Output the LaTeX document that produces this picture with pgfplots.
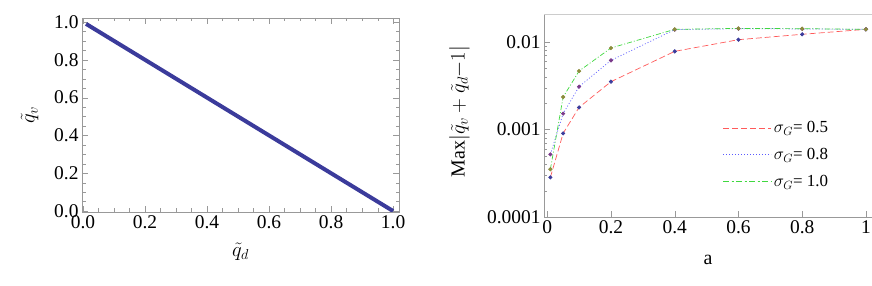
\documentclass[border=0pt]{standalone}
\usepackage{fontspec}
\setmainfont{Liberation Serif}
\usepackage{pgfplots}
\pgfplotsset{compat=1.18}
\definecolor{linecol}{HTML}{3B3B9B}
\definecolor{framecol}{HTML}{999999}
\definecolor{rline}{HTML}{FF5A5A}
\definecolor{bline}{HTML}{5A5AFF}
\definecolor{gline}{HTML}{40D840}
\definecolor{rmark}{HTML}{3C3C9C}
\definecolor{bmark}{HTML}{7A3A8A}
\definecolor{gmark}{HTML}{8C8C3C}
\begin{document}
\begin{tikzpicture}
\path[use as bounding box] (0,0) rectangle (872bp,286bp);
\begin{axis}[
  at={(82bp,74bp)}, anchor=south west, scale only axis,
  width=317bp, height=194bp,
  xmin=-0.003, xmax=1.019, ymin=-0.005, ymax=1.021,
  axis line style={framecol}, tick style={framecol},
  tick align=inside,
  xtick={0,0.2,0.4,0.6,0.8,1.0}, ytick={0,0.2,0.4,0.6,0.8,1.0},
  xticklabels={0.0,0.2,0.4,0.6,0.8,1.0},
  yticklabels={0.0,0.2,0.4,0.6,0.8,1.0},
  minor tick num=3,
  major tick length=6bp, minor tick length=3.5bp,
  /pgf/number format/assume math mode=true,
  tick label style={font=\fontsize{19.5}{22}\selectfont},
  xlabel={$\tilde q_d$}, ylabel={$\tilde q_v$},
  label style={font=\fontsize{20}{22}\selectfont},
  xlabel style={at={(axis description cs:0.5,-0.205)}, anchor=center},
  ylabel style={at={(axis description cs:-0.165,0.5)}, anchor=center, rotate=0},
]
\addplot[linecol, line width=4bp] coordinates {
  (0.01,0.99) (0.2,0.8) (0.4,0.6) (0.6,0.4) (0.8,0.2) (1.0,0.0)
};
\end{axis}
\begin{axis}[
  at={(544bp,69bp)}, anchor=south west, scale only axis,
  width=328bp, height=203bp,
  ymode=log,
  xmin=-0.01, xmax=1.019, ymin=0.0001, ymax=0.0209,
  axis x line*=bottom, axis y line*=left,
  axis line style={framecol, -}, tick style={framecol},
  tick align=inside,
  xtick={0,0.2,0.4,0.6,0.8,1}, xticklabels={0,0.2,0.4,0.6,0.8,1},
  ytick={0.0001,0.001,0.01}, yticklabels={0.0001,0.001,0.01},
  minor tick num=0, minor ytick={},
  major tick length=6bp,
  /pgf/number format/assume math mode=true,
  tick label style={font=\fontsize{19.5}{22}\selectfont},
  xlabel={a}, ylabel={Max$|\tilde q_v+\tilde q_d{-}1|$},
  label style={font=\fontsize{20}{22}\selectfont},
  xlabel style={at={(axis description cs:0.5,-0.21)}, anchor=center},
  ylabel style={at={(axis description cs:-0.258,0.52)}, anchor=center},
  legend style={draw=none, fill=none, at={(axis description cs:0.535,0.49)}, anchor=north west,
    font=\fontsize{17}{19}\selectfont, row sep=10bp, nodes={inner sep=2pt}},
  legend cell align=left,
  legend image code/.code={\draw[#1] (0bp,0bp) -- (41bp,0bp); \path (0bp,0bp) -- (48bp,0bp);},
  mark size=1.7bp,
]
\draw[framecol!50, line width=1.5bp] (rel axis cs:0,1) -- (rel axis cs:1,1);
\addplot[forget plot, color=rline, dash pattern=on 6bp off 3bp, line width=0.7bp, mark=*, mark options={solid, draw=rmark, fill=rmark}] coordinates {
  (0.01,2.84e-4) (0.05,9.04e-4) (0.1,1.79e-3) (0.2,3.52e-3) (0.4,7.82e-3) (0.6,0.01063) (0.8,0.01225) (1.0,0.01396)
};
\addplot[forget plot, color=bline, dash pattern=on 1bp off 2bp, line width=0.7bp, mark=*, mark options={solid, draw=bmark, fill=bmark}] coordinates {
  (0.01,5.2e-4) (0.05,1.52e-3) (0.1,3.09e-3) (0.2,6.17e-3) (0.4,0.01384) (0.6,0.0142) (0.8,0.0141) (1.0,0.01396)
};
\addplot[forget plot, color=gline, dash pattern=on 5bp off 2bp on 1bp off 2bp, line width=0.7bp, mark=*, mark options={solid, draw=gmark, fill=gmark}] coordinates {
  (0.01,3.51e-4) (0.05,2.35e-3) (0.1,4.66e-3) (0.2,8.54e-3) (0.4,0.01396) (0.6,0.0143) (0.8,0.0142) (1.0,0.01396)
};
\addlegendimage{color=rline, draw=rline, dash pattern=on 6bp off 3bp, line width=0.9bp}
\addlegendentry{$\sigma_G$= 0.5}
\addlegendimage{color=bline, draw=bline, dash pattern=on 1.2bp off 1.8bp, line width=0.9bp}
\addlegendentry{$\sigma_G$= 0.8}
\addlegendimage{color=gline, draw=gline, dash pattern=on 6bp off 2.5bp on 2bp off 2.5bp, line width=1.1bp}
\addlegendentry{$\sigma_G$= 1.0}
\end{axis}
\end{tikzpicture}
\end{document}
